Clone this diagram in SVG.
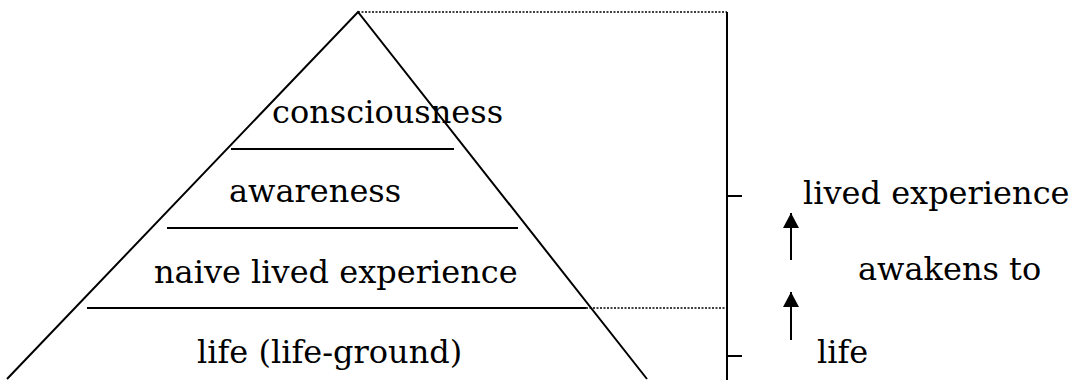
<svg xmlns="http://www.w3.org/2000/svg" width="1079" height="387" viewBox="0 0 1079 387">
<style>
.t{font-family:"DejaVu Serif","Liberation Serif",serif;font-size:32px;fill:#000}
.ln{stroke:#000;stroke-width:2;fill:none}
.dot{stroke:#000;stroke-width:1.5;stroke-dasharray:2,1.5;fill:none}
</style>
<defs>
<marker id="ah" markerWidth="16" markerHeight="16" refX="15" refY="8" orient="auto" markerUnits="userSpaceOnUse" viewBox="0 0 16 16">
<path d="M0,0 L15,8 L0,16 Z" fill="#000"/>
</marker>
</defs>
<g id="pyramid">
<path class="ln" d="M7,379 L358,12 L647,379"/>
</g>
<g id="layer-consciousness">
<line class="ln" x1="231" y1="149" x2="454" y2="149"/>
<text class="t" x="272" y="123">consciousness</text>
</g>
<g id="layer-awareness">
<line class="ln" x1="167" y1="228" x2="518" y2="228"/>
<text class="t" x="229" y="202">awareness</text>
</g>
<g id="layer-naive">
<line class="ln" x1="87" y1="308" x2="586" y2="308"/>
<text class="t" x="154" y="283">naive lived experience</text>
</g>
<g id="layer-life">
<text class="t" x="197" y="363">life (life-ground)</text>
</g>
<g id="scale">
<line class="ln" x1="727" y1="12" x2="727" y2="380"/>
<line class="ln" x1="727" y1="196" x2="742" y2="196"/>
<line class="ln" x1="727" y1="356" x2="742" y2="356"/>
</g>
<g id="label-lived">
<text class="t" x="803" y="204">lived experience</text>
</g>
<g id="label-awakens">
<text class="t" x="858" y="280">awakens to</text>
</g>
<g id="label-life">
<text class="t" x="817" y="363">life</text>
</g>
<g id="connectors">
<line class="dot" x1="358" y1="12" x2="727" y2="12"/>
<line class="dot" x1="586" y1="308" x2="727" y2="308"/>
<line class="ln" x1="791" y1="260" x2="791" y2="213" marker-end="url(#ah)"/>
<line class="ln" x1="791" y1="340" x2="791" y2="292" marker-end="url(#ah)"/>
</g>
</svg>
